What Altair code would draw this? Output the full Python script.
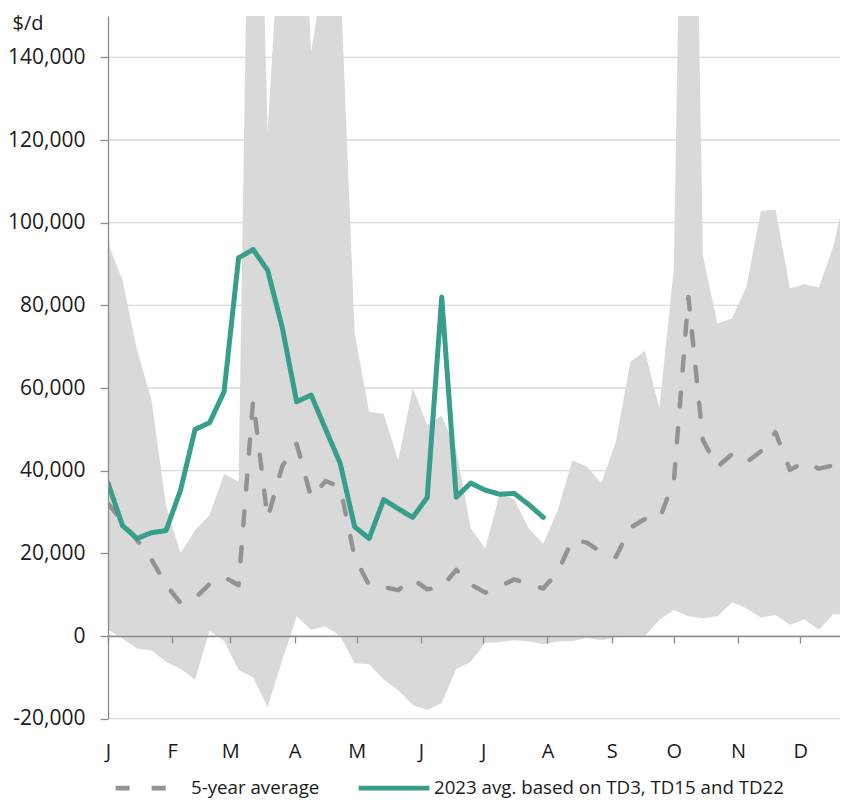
import altair as alt
import pandas as pd

# ---- data (weekly) ----
weeks = list(range(52))
days = [7 * w for w in weeks]

band_max = [95000, 86100, 69200, 57100, 31500, 20000, 25600, 29300, 39200, 37300,
            260000, 121900, 181000, 207700, 141300, 163400, 160500, 73200, 54200, 53800,
            42500, 60000, 51100, 53300, 45000, 26000, 21200, 34500, 33000, 26000,
            22300, 30500, 42500, 41000, 37000, 47000, 66300, 69000, 55100, 89000,
            300000, 92000, 75600, 76800, 84500, 102800, 103200, 84100, 85100, 84300,
            94500, 110000]

band_min = [1600, -600, -3000, -3500, -6200, -8000, -10500, 1300, -1200, -8200,
            -10000, -17200, -6000, 4700, 1500, 2300, 0, -6600, -6800, -10500,
            -13100, -16700, -17900, -16200, -8000, -6200, -1700, -1500, -1000, -1300,
            -2000, -1300, -1200, -500, -1000, -300, 0, 0, 3900, 6300,
            4800, 4300, 4800, 8100, 6700, 4500, 5100, 2700, 4000, 1500,
            5300, 5100]

avg5 = [32100, 27600, 23200, 18500, 12400, 8000, 9100, 12600, 14300, 12300,
        57000, 28500, 41000, 46500, 33500, 37500, 36000, 19000, 12300, 11800,
        11100, 13800, 11300, 11800, 16000, 12500, 10500, 12000, 13700, 12500,
        11500, 15500, 23300, 22600, 20300, 19100, 26200, 28300, 28300, 37500,
        82000, 47400, 40900, 44000, 42000, 44700, 49300, 40200, 42000, 40500,
        41300, 42800]

y2023 = [37000, 26700, 23600, 25000, 25500, 35300, 50000, 51600, 59100, 91500,
         93500, 88500, 74800, 56700, 58300, 50000, 41800, 26400, 23600, 33000,
         30800, 28700, 33500, 82000, 33600, 37000, 35300, 34300, 34500, 31800,
         28700]

month_labels = ["J", "F", "M", "A", "M", "J", "J", "A", "S", "O", "N", "D"]
month_days = [0, 31, 59, 90, 120, 151, 181, 212, 243, 273, 304, 334]
y_ticks = [-20000, 0, 20000, 40000, 60000, 80000, 100000, 120000, 140000]

lab_avg = "5-year average"
lab_23 = "2023 avg. based on TD3, TD15 and TD22"

# ---- styles ----
W_FULL = 740      # pixel span of the x scale (last week sits at the page edge)
W, H = 732, 702.7
YMIN, YMAX = -20000, 150000
GRAY_BAND = "#d9d9d9"
GRAY_LINE = "#939393"
TEAL = "#369e8a"
AXIS_C = "#8c8c8c"
TXT = "#1a1a1a"
FONT = "Open Sans"

band_df = pd.DataFrame({"day": days, "upper": band_max, "lower": band_min})
avg_df = pd.DataFrame({"day": days, "value": avg5, "series": lab_avg})
y23_df = pd.DataFrame({"day": days[:len(y2023)], "value": y2023, "series": lab_23})
grid_df = pd.DataFrame({"v": y_ticks})

xscale = alt.Scale(domain=[days[0], days[-1]], range=[0, W_FULL], nice=False, zero=False)
yscale = alt.Scale(domain=[YMIN, YMAX], nice=False, zero=False)

zero_offset = -H * (0 - YMIN) / (YMAX - YMIN)

x_label_expr = ("[" + ",".join(f"'{m}'" for m in month_labels) + "][indexof(["
                + ",".join(str(d) for d in month_days) + "], datum.value)]")

x_axis = alt.Axis(values=month_days, labelExpr=x_label_expr, grid=False, offset=zero_offset,
                  domainColor=AXIS_C, domainWidth=1.3, tickColor=AXIS_C, tickWidth=1.3,
                  tickSize=7, labelPadding=98, labelFontSize=20, labelColor=TXT,
                  labelFont=FONT, labelFlush=False, labelOverlap=False, labelBound=False,
                  title=None, zindex=1)

y_axis = alt.Axis(values=y_ticks, labelExpr="replace(format(datum.value, ','), '\u2212', '-')",
                  grid=False, domainColor=AXIS_C, domainWidth=1.3, tickColor=AXIS_C,
                  tickWidth=1.3, tickSize=8, labelPadding=15, labelFontSize=21,
                  labelColor=TXT, labelFont=FONT, labelFlush=False, labelOverlap=False,
                  title="$/d", titleAngle=0, titleAlign="left", titleBaseline="alphabetic",
                  titleX=-96, titleY=13.5, titleFontSize=20, titleFontWeight="normal",
                  titleColor=TXT, titleFont=FONT, zindex=1)

color_scale = alt.Scale(domain=[lab_avg, lab_23], range=[GRAY_LINE, TEAL])
dash_scale = alt.Scale(domain=[lab_avg, lab_23], range=[[14, 22], [1, 0]])

legend = alt.Legend(title=None, orient="none", legendX=5, legendY=734, direction="horizontal",
                    symbolType="stroke", symbolSize=5000, symbolStrokeWidth=4.8,
                    labelFontSize=18.7, labelFont=FONT, labelColor=TXT, labelOffset=2,
                    columnPadding=29, labelLimit=600, padding=0)

grid = alt.Chart(grid_df).mark_rule(color=GRAY_BAND, strokeWidth=1.3).encode(
    y=alt.Y("v:Q", scale=yscale, axis=y_axis)
)

band = alt.Chart(band_df).mark_area(color=GRAY_BAND, opacity=1, clip=True).encode(
    x=alt.X("day:Q", scale=xscale, axis=x_axis),
    y=alt.Y("upper:Q", scale=yscale, axis=y_axis),
    y2="lower:Q",
)


def line_layer(df, width):
    return alt.Chart(df).mark_line(strokeWidth=width, strokeCap="round",
                                   strokeJoin="round", clip=True).encode(
        x=alt.X("day:Q", scale=xscale, axis=x_axis),
        y=alt.Y("value:Q", scale=yscale, axis=y_axis),
        color=alt.Color("series:N", scale=color_scale, legend=legend),
        strokeDash=alt.StrokeDash("series:N", scale=dash_scale, legend=legend),
    )


chart = alt.layer(grid, band, line_layer(avg_df, 4.5), line_layer(y23_df, 5)).properties(
    width=W, height=H,
    autosize=alt.AutoSizeParams(type="none"),
    padding={"left": 100, "top": 8, "right": 0, "bottom": 81},
).configure(font=FONT, view=alt.ViewConfig(stroke=None))

chart.save("out.html", embed_options={"renderer": "svg", "actions": False})
